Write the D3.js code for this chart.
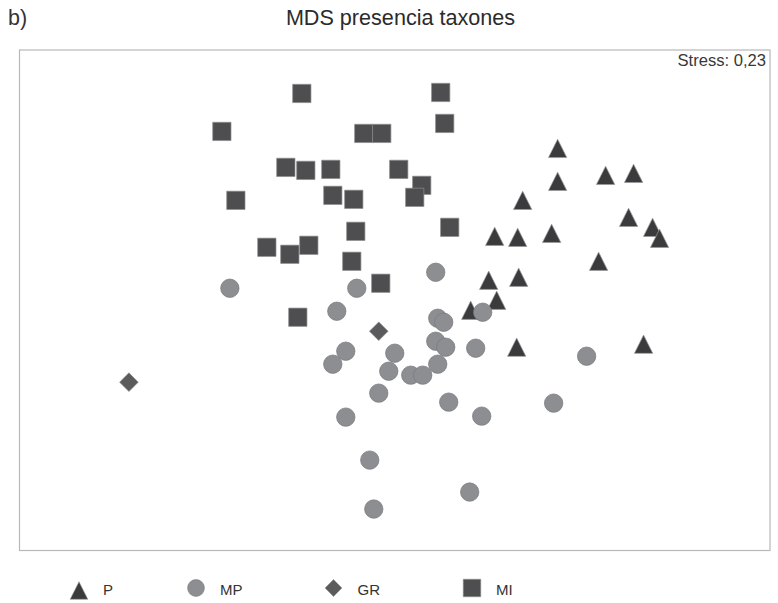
<!DOCTYPE html>
<html>
<head>
<meta charset="utf-8">
<script src="https://cdn.jsdelivr.net/npm/d3@7/dist/d3.min.js"></script>
<style>
  html, body { margin: 0; padding: 0; background: #fff; }
  svg { display: block; }
  text { font-family: "Liberation Sans", Arial, Helvetica, sans-serif; }
</style>
</head>
<body>
<svg id="chart" width="778" height="603"></svg>
<script>
// MDS ordination coordinates (dimension 1, dimension 2) for each group
const groups = ["P", "MP", "GR", "MI"];

const pointsP = [
  [1.63, 1.52], [2.11, 1.25], [2.39, 1.27], [1.63, 1.19], [1.28, 1.00],
  [2.34, 0.83], [2.58, 0.73], [2.65, 0.62], [1.00, 0.64], [1.23, 0.63],
  [1.57, 0.67], [2.04, 0.39], [0.94, 0.20], [1.24, 0.23], [1.02, 0.00],
  [0.76, -0.10], [1.22, -0.47], [2.49, -0.44]
];

const pointsMP = [
  [-1.65, 0.12], [-0.38, 0.12], [-0.58, -0.11], [-0.49, -0.51], [-0.62, -0.64],
  [0.00, -0.53], [-0.06, -0.71], [0.16, -0.75], [0.28, -0.75], [-0.16, -0.93],
  [-0.49, -1.17], [-0.25, -1.60], [-0.21, -2.09], [0.41, 0.28], [0.43, -0.18],
  [0.49, -0.22], [0.88, -0.12], [0.41, -0.41], [0.51, -0.47], [0.81, -0.48],
  [0.43, -0.64], [0.54, -1.02], [0.87, -1.16], [1.59, -1.03], [1.92, -0.56],
  [0.75, -1.92]
];

const pointsGR = [
  [-0.16, -0.31], [-2.66, -0.82]
];

const pointsMI = [
  [-0.93, 2.07], [0.46, 2.08], [-1.73, 1.69], [-0.31, 1.67], [-0.13, 1.67],
  [0.50, 1.77], [-1.09, 1.33], [-0.89, 1.30], [-0.64, 1.31], [0.04, 1.31],
  [0.27, 1.15], [0.20, 1.03], [-0.62, 1.05], [-0.41, 1.01], [-1.59, 1.00],
  [-0.39, 0.69], [0.55, 0.73], [-1.28, 0.53], [-1.05, 0.46], [-0.86, 0.55],
  [-0.43, 0.39], [-0.14, 0.17], [-0.97, -0.17]
];

const stressValue = "0,23";
const chartTitle = "MDS presencia taxones";
const panelLabel = "b)";

const svg = d3.select("#chart");

// plot frame
const frame = { left: 19.5, top: 50, right: 770, bottom: 550.5 };

const x = d3.scaleLinear().domain([-3.75, 3.75]).range([frame.left + 0.5, frame.right - 0.5]);
const y = d3.scaleLinear().domain([-2.5, 2.5]).range([frame.bottom - 0.5, frame.top + 0.5]);

// panel label and title
svg.append("text")
  .attr("x", 8).attr("y", 25)
  .attr("font-size", 21.5)
  .attr("fill", "#333")
  .text(panelLabel);

svg.append("text")
  .attr("x", 400.5).attr("y", 25)
  .attr("text-anchor", "middle")
  .attr("font-size", 21.6)
  .attr("fill", "#2b2b2b")
  .text(chartTitle);

// frame
svg.append("rect")
  .attr("x", frame.left).attr("y", frame.top)
  .attr("width", frame.right - frame.left)
  .attr("height", frame.bottom - frame.top)
  .attr("fill", "none")
  .attr("stroke", "#b8b8b8")
  .attr("stroke-width", 1.2);

svg.append("text")
  .attr("x", 766).attr("y", 66)
  .attr("text-anchor", "end")
  .attr("font-size", 16.6)
  .attr("fill", "#383838")
  .text("Stress: " + stressValue);

// marker shapes
const styles = {
  P:  { fill: "#3b3b3d", stroke: "#9a9a9a" },
  MP: { fill: "#8c8e91", stroke: "#77797c" },
  GR: { fill: "#5b5b5e", stroke: "#8a8a8a" },
  MI: { fill: "#4e4e51", stroke: "#8e8e8e" }
};

function markerPath(kind, s) {
  const h = s / 2;
  const p = d3.path();
  if (kind === "P") {
    p.moveTo(0, -h); p.lineTo(h, h); p.lineTo(-h, h); p.closePath();
  } else if (kind === "MP") {
    p.arc(0, 0, h, 0, Math.PI * 2);
  } else if (kind === "GR") {
    p.moveTo(0, -h); p.lineTo(h, 0); p.lineTo(0, h); p.lineTo(-h, 0); p.closePath();
  } else {
    p.rect(-h, -h, s, s);
  }
  return p.toString();
}

const plotSizes = { P: 18.3, MP: 18.4, GR: 18.6, MI: 18.3 };
const seriesData = { P: pointsP, MP: pointsMP, GR: pointsGR, MI: pointsMI };

const plot = svg.append("g");
groups.forEach(g => {
  plot.append("g")
    .selectAll("path")
    .data(seriesData[g])
    .join("path")
    .attr("transform", d => `translate(${x(d[0])},${y(d[1])})`)
    .attr("d", markerPath(g, plotSizes[g]))
    .attr("fill", styles[g].fill)
    .attr("stroke", styles[g].stroke)
    .attr("stroke-width", 0.7);
});

// legend
const legendX = [79, 196, 333.5, 472];
const legendSizes = { P: 17.6, MP: 16.8, GR: 16.8, MI: 17.5 };
const legend = svg.append("g");
groups.forEach((g, i) => {
  legend.append("path")
    .attr("transform", `translate(${legendX[i]},${g === "P" ? 590.5 : 588})`)
    .attr("d", markerPath(g, legendSizes[g]))
    .attr("fill", styles[g].fill)
    .attr("stroke", styles[g].stroke)
    .attr("stroke-width", 0.6);
  legend.append("text")
    .attr("x", legendX[i] + 24)
    .attr("y", 595)
    .attr("font-size", 15)
    .attr("fill", "#333")
    .text(g);
});
</script>
</body>
</html>
